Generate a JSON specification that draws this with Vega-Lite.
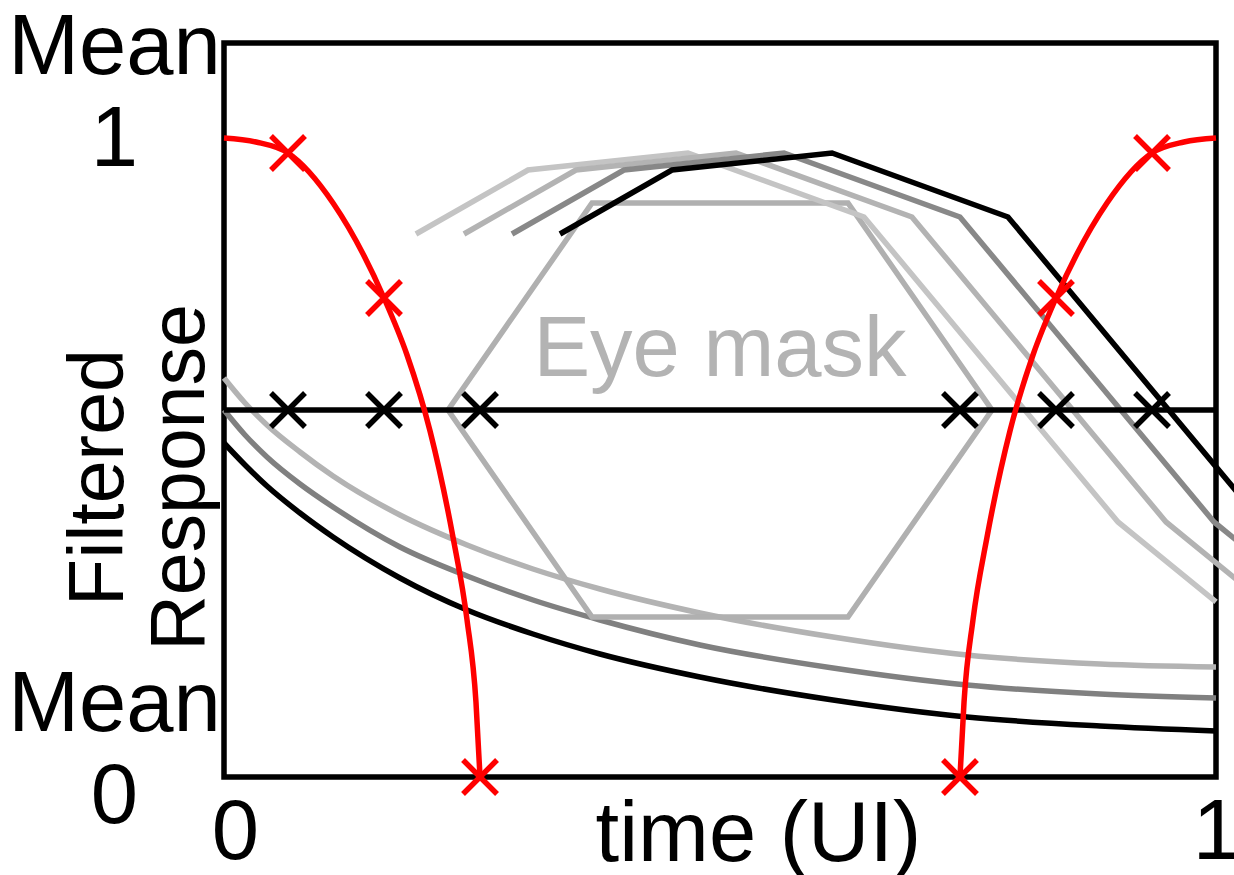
{
  "$schema": "https://vega.github.io/schema/vega-lite/v6.json",
  "width": 992,
  "height": 734,
  "autosize": {"type": "none"},
  "padding": {"left": 224, "top": 43, "right": 18, "bottom": 98},
  "background": "white",
  "config": {
    "view": {"stroke": "black", "strokeWidth": 5.5},
    "font": "Liberation Sans"
  },
  "datasets": {
    "decay": [
      {"curve": "c1", "t": 0, "v": 0.6244}, {"curve": "c1", "t": 0.0212, "v": 0.5853}, {"curve": "c1", "t": 0.0433, "v": 0.5509}, {"curve": "c1", "t": 0.0766, "v": 0.5086}, {"curve": "c1", "t": 0.1099, "v": 0.471}, {"curve": "c1", "t": 0.1774, "v": 0.41}, {"curve": "c1", "t": 0.245, "v": 0.3631}, {"curve": "c1", "t": 0.3115, "v": 0.3255}, {"curve": "c1", "t": 0.379, "v": 0.2942}, {"curve": "c1", "t": 0.4798, "v": 0.2567}, {"curve": "c1", "t": 0.6139, "v": 0.2191}, {"curve": "c1", "t": 0.749, "v": 0.1909}, {"curve": "c1", "t": 0.8831, "v": 0.1768}, {"curve": "c1", "t": 1.0, "v": 0.1721},
      {"curve": "c2", "t": 0, "v": 0.5743}, {"curve": "c2", "t": 0.0212, "v": 0.5352}, {"curve": "c2", "t": 0.0433, "v": 0.5008}, {"curve": "c2", "t": 0.0766, "v": 0.4585}, {"curve": "c2", "t": 0.1099, "v": 0.4225}, {"curve": "c2", "t": 0.1774, "v": 0.3599}, {"curve": "c2", "t": 0.245, "v": 0.3146}, {"curve": "c2", "t": 0.3115, "v": 0.277}, {"curve": "c2", "t": 0.379, "v": 0.2457}, {"curve": "c2", "t": 0.4798, "v": 0.2066}, {"curve": "c2", "t": 0.6139, "v": 0.1706}, {"curve": "c2", "t": 0.749, "v": 0.144}, {"curve": "c2", "t": 0.8831, "v": 0.1299}, {"curve": "c2", "t": 1.0, "v": 0.1236},
      {"curve": "c3", "t": 0, "v": 0.5227}, {"curve": "c3", "t": 0.0212, "v": 0.4883}, {"curve": "c3", "t": 0.0433, "v": 0.4554}, {"curve": "c3", "t": 0.0766, "v": 0.4131}, {"curve": "c3", "t": 0.1099, "v": 0.3756}, {"curve": "c3", "t": 0.1774, "v": 0.3114}, {"curve": "c3", "t": 0.245, "v": 0.2613}, {"curve": "c3", "t": 0.3115, "v": 0.2238}, {"curve": "c3", "t": 0.379, "v": 0.1925}, {"curve": "c3", "t": 0.4798, "v": 0.1565}, {"curve": "c3", "t": 0.6139, "v": 0.1205}, {"curve": "c3", "t": 0.749, "v": 0.0939}, {"curve": "c3", "t": 0.8831, "v": 0.0798}, {"curve": "c3", "t": 1.0, "v": 0.072}
    ],
    "mask": [
      {"i": 0, "t": 0.2258, "v": 0.5743}, {"i": 1, "t": 0.371, "v": 0.8983}, {"i": 2, "t": 0.629, "v": 0.8983}, {"i": 3, "t": 0.7742, "v": 0.5743}, {"i": 4, "t": 0.629, "v": 0.2504}, {"i": 5, "t": 0.371, "v": 0.2504}, {"i": 6, "t": 0.2258, "v": 0.5743}
    ],
    "edges": [
      {"edge": "e1", "t": 0.1935, "v": 0.8498}, {"edge": "e1", "t": 0.3065, "v": 0.9499}, {"edge": "e1", "t": 0.4677, "v": 0.9765}, {"edge": "e1", "t": 0.6452, "v": 0.8764}, {"edge": "e1", "t": 0.9012, "v": 0.3991}, {"edge": "e1", "t": 1.0, "v": 0.2739},
      {"edge": "e2", "t": 0.2419, "v": 0.8498}, {"edge": "e2", "t": 0.3548, "v": 0.9499}, {"edge": "e2", "t": 0.5161, "v": 0.9765}, {"edge": "e2", "t": 0.6935, "v": 0.8764}, {"edge": "e2", "t": 0.9496, "v": 0.3991}, {"edge": "e2", "t": 1.0484, "v": 0.2739},
      {"edge": "e3", "t": 0.2903, "v": 0.8498}, {"edge": "e3", "t": 0.4032, "v": 0.9499}, {"edge": "e3", "t": 0.5645, "v": 0.9765}, {"edge": "e3", "t": 0.7419, "v": 0.8764}, {"edge": "e3", "t": 0.998, "v": 0.3991}, {"edge": "e3", "t": 1.0968, "v": 0.2739},
      {"edge": "e4", "t": 0.3387, "v": 0.8498}, {"edge": "e4", "t": 0.4516, "v": 0.9499}, {"edge": "e4", "t": 0.6129, "v": 0.9765}, {"edge": "e4", "t": 0.7903, "v": 0.8764}, {"edge": "e4", "t": 1.0464, "v": 0.3991}, {"edge": "e4", "t": 1.1452, "v": 0.2739}
    ],
    "threshold": [
      {"t": 0, "v": 0.5743}, {"t": 1, "v": 0.5743}
    ],
    "red": [
      {"side": "fall", "t": 0, "v": 1.0}, {"side": "fall", "t": 0.0323, "v": 0.9937}, {"side": "fall", "t": 0.0645, "v": 0.9765}, {"side": "fall", "t": 0.1099, "v": 0.8983}, {"side": "fall", "t": 0.1613, "v": 0.7496}, {"side": "fall", "t": 0.1845, "v": 0.6604}, {"side": "fall", "t": 0.2077, "v": 0.5415}, {"side": "fall", "t": 0.2308, "v": 0.3756}, {"side": "fall", "t": 0.245, "v": 0.2457}, {"side": "fall", "t": 0.254, "v": 0.1174}, {"side": "fall", "t": 0.2581, "v": 0.0},
      {"side": "rise", "t": 0.7419, "v": 0.0}, {"side": "rise", "t": 0.746, "v": 0.1174}, {"side": "rise", "t": 0.755, "v": 0.2457}, {"side": "rise", "t": 0.7692, "v": 0.3756}, {"side": "rise", "t": 0.7923, "v": 0.5415}, {"side": "rise", "t": 0.8155, "v": 0.6604}, {"side": "rise", "t": 0.8387, "v": 0.7496}, {"side": "rise", "t": 0.8901, "v": 0.8983}, {"side": "rise", "t": 0.9355, "v": 0.9765}, {"side": "rise", "t": 0.9677, "v": 0.9937}, {"side": "rise", "t": 1.0, "v": 1.0}
    ],
    "crossings": [
      {"t": 0.0645, "v": 0.5743}, {"t": 0.1613, "v": 0.5743}, {"t": 0.2581, "v": 0.5743}, {"t": 0.7419, "v": 0.5743}, {"t": 0.8387, "v": 0.5743}, {"t": 0.9355, "v": 0.5743}
    ],
    "samples": [
      {"t": 0.0645, "v": 0.9765}, {"t": 0.1613, "v": 0.7496}, {"t": 0.2581, "v": 0.0}, {"t": 0.7419, "v": 0.0}, {"t": 0.8387, "v": 0.7496}, {"t": 0.9355, "v": 0.9765}
    ],
    "labels": [
      {"t": 0.5, "v": 0.6275, "label": "Eye mask"}
    ]
  },
  "encoding": {
    "x": {
      "field": "t", "type": "quantitative",
      "scale": {"domain": [0, 1], "nice": false, "zero": false},
      "axis": {
        "values": [0, 1], "labelExpr": "datum.value == 0 ? '0' : '1'", "title": "time (UI)", "domain": false, "ticks": false, "tickSize": 0, "grid": false,
        "labelFontSize": 85, "labelColor": "black", "labelPadding": 14, "labelFlush": false, "labelOverlap": false, "labelLimit": 0,
        "labelOffset": {"condition": {"test": "datum.value == 0", "value": 11}, "value": 0},
        "titleFontSize": 85, "titleFontWeight": "normal", "titleColor": "black", "titleLimit": 0,
        "titleX": 534, "titleY": 83, "titleAlign": "center", "titleBaseline": "alphabetic"
      }
    },
    "y": {
      "field": "v", "type": "quantitative",
      "scale": {"domain": [0, 1.1487], "nice": false, "zero": false},
      "axis": {
        "values": [0, 1], "labelExpr": "datum.value == 1 ? ['Mean', '1'] : ['Mean', '0']",
        "title": ["Filtered", "Response"], "domain": false, "ticks": false, "tickSize": 0, "grid": false,
        "labelFontSize": 85, "labelColor": "black", "labelAlign": "center", "labelBaseline": "alphabetic", "labelLineHeight": 92,
        "labelPadding": 110, "labelFlush": false, "labelOverlap": false, "labelLimit": 0,
        "labelOffset": {"condition": {"test": "datum.value == 0", "value": -47}, "value": -65},
        "titleFontSize": 77, "titleFontWeight": "normal", "titleColor": "black", "titleLineHeight": 81, "titleLimit": 0,
        "titleX": -102, "titleY": 434, "titleAngle": -90, "titleAlign": "center", "titleBaseline": "alphabetic"
      }
    }
  },
  "layer": [
    {
      "data": {"name": "decay"},
      "mark": {"type": "line", "interpolate": "monotone", "strokeWidth": 5.5},
      "encoding": {
        "color": {"field": "curve", "type": "nominal", "scale": {"domain": ["c1", "c2", "c3"], "range": ["#b3b3b3", "#808080", "#000000"]}, "legend": null}
      }
    },
    {
      "data": {"name": "mask"},
      "mark": {"type": "line", "color": "#b0b0b0", "strokeWidth": 5.5},
      "encoding": {"order": {"field": "i", "type": "quantitative"}}
    },
    {
      "data": {"name": "edges"},
      "mark": {"type": "line", "strokeWidth": 5.5},
      "encoding": {
        "color": {"field": "edge", "type": "nominal", "scale": {"domain": ["e1", "e2", "e3", "e4"], "range": ["#c4c4c4", "#b3b3b3", "#888888", "#000000"]}, "legend": null}
      }
    },
    {
      "data": {"name": "threshold"},
      "mark": {"type": "line", "color": "black", "strokeWidth": 5.5},
      "encoding": {}
    },
    {
      "data": {"name": "red"},
      "mark": {"type": "line", "interpolate": "monotone", "color": "#ff0000", "strokeWidth": 5.5},
      "encoding": {"detail": {"field": "side", "type": "nominal"}}
    },
    {
      "data": {"name": "crossings"},
      "mark": {"type": "point", "shape": "M-1,-1L1,1M-1,1L1,-1", "size": 1156, "filled": false, "color": "black", "strokeWidth": 5.5, "opacity": 1},
      "encoding": {}
    },
    {
      "data": {"name": "samples"},
      "mark": {"type": "point", "shape": "M-1,-1L1,1M-1,1L1,-1", "size": 1156, "filled": false, "color": "#ff0000", "strokeWidth": 5.5, "opacity": 1},
      "encoding": {}
    },
    {
      "data": {"name": "labels"},
      "mark": {"type": "text", "fontSize": 85, "color": "#b3b3b3", "align": "center", "baseline": "alphabetic"},
      "encoding": {"text": {"field": "label", "type": "nominal"}}
    }
  ],
  "resolve": {"scale": {"color": "independent"}}
}
